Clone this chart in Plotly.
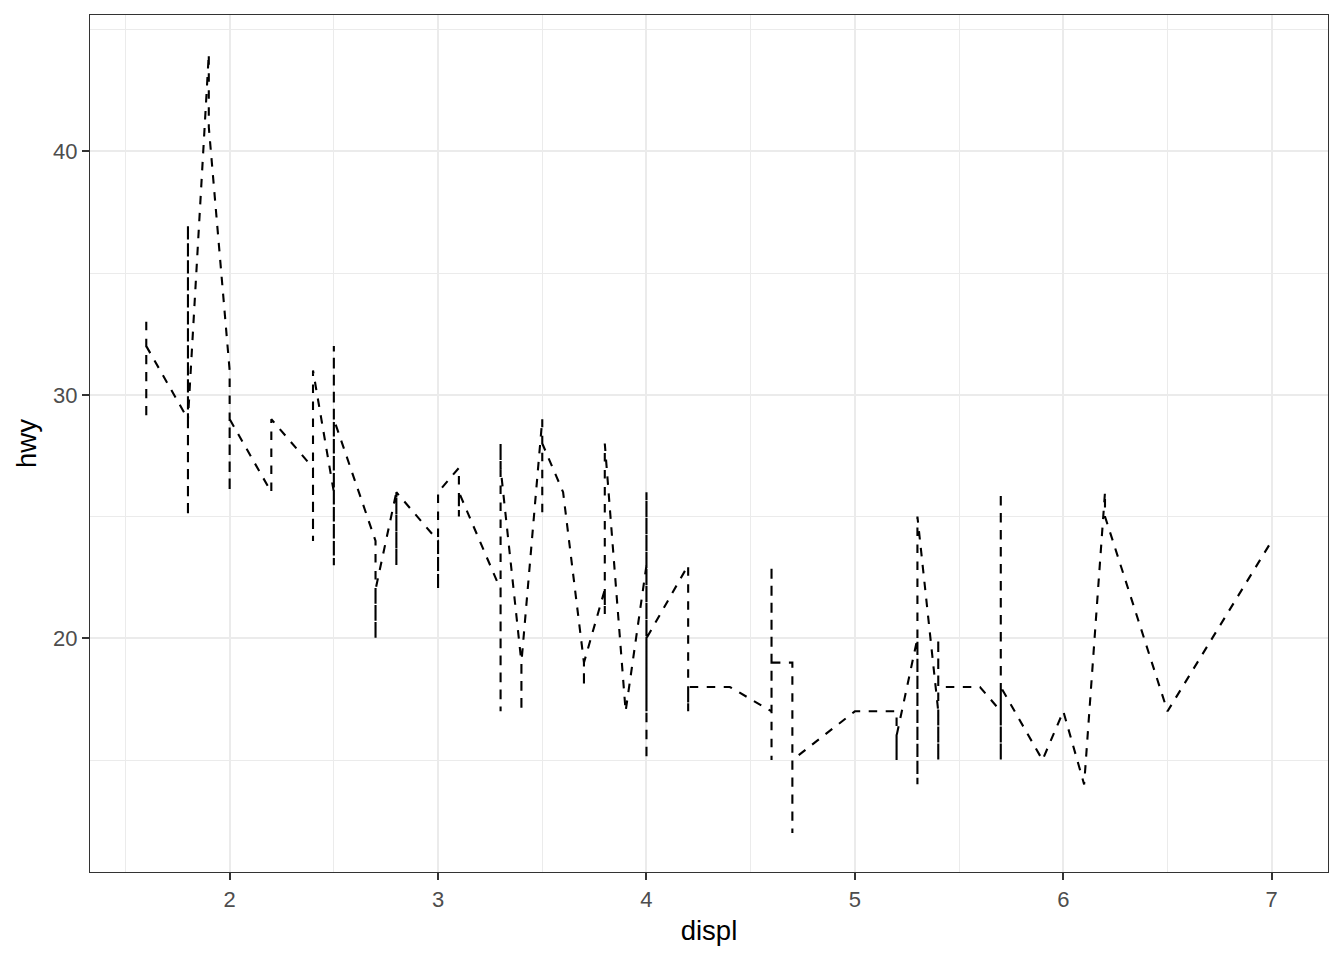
import numpy as np
import plotly.graph_objects as go

# mpg data (dataset order): engine displacement and highway mpg
displ = [
    # audi
    1.8, 1.8, 2.0, 2.0, 2.8, 2.8, 3.1, 1.8, 1.8, 2.0, 2.0, 2.8, 2.8, 3.1, 3.1, 2.8, 3.1, 4.2,
    # chevrolet
    5.3, 5.3, 5.3, 5.7, 6.0, 5.7, 5.7, 6.2, 6.2, 7.0, 5.3, 5.3, 5.7, 6.5, 2.4, 2.4, 3.1, 3.5, 3.6,
    # dodge
    2.4, 3.0, 3.3, 3.3, 3.3, 3.3, 3.3, 3.8, 3.8, 3.8, 4.0,
    3.7, 3.7, 3.9, 3.9, 4.7, 4.7, 4.7, 5.2, 5.2,
    3.9, 4.7, 4.7, 4.7, 5.2, 5.7, 5.9,
    4.7, 4.7, 4.7, 4.7, 4.7, 4.7, 5.2, 5.2, 5.7, 5.9,
    # ford
    4.6, 5.4, 5.4,
    4.0, 4.0, 4.0, 4.0, 4.6, 5.0,
    4.2, 4.2, 4.6, 4.6, 4.6, 5.4, 5.4,
    3.8, 3.8, 4.0, 4.0, 4.6, 4.6, 4.6, 4.6, 5.4,
    # honda
    1.6, 1.6, 1.6, 1.6, 1.6, 1.8, 1.8, 1.8, 2.0,
    # hyundai
    2.4, 2.4, 2.4, 2.4, 2.5, 2.5, 3.3, 2.0, 2.0, 2.0, 2.0, 2.7, 2.7, 2.7,
    # jeep
    3.0, 3.7, 4.0, 4.7, 4.7, 4.7, 5.7, 6.1,
    # land rover
    4.0, 4.2, 4.4, 4.6,
    # lincoln
    5.4, 5.4, 5.4,
    # mercury
    4.0, 4.0, 4.6, 5.0,
    # nissan
    2.4, 2.4, 2.5, 2.5, 3.5, 3.5, 3.0, 3.0, 3.5, 3.3, 3.3, 4.0, 5.6,
    # pontiac
    3.1, 3.8, 3.8, 3.8, 5.3,
    # subaru
    2.5, 2.5, 2.5, 2.5, 2.5, 2.5, 2.2, 2.2, 2.5, 2.5, 2.5, 2.5, 2.5, 2.5,
    # toyota
    2.7, 2.7, 3.4, 3.4, 4.0, 4.7,
    2.2, 2.2, 2.4, 2.4, 3.0, 3.0, 3.5,
    2.2, 2.2, 2.4, 2.4, 3.0, 3.0, 3.3,
    1.8, 1.8, 1.8, 1.8, 1.8,
    4.7, 5.7,
    2.7, 2.7, 2.7, 3.4, 3.4, 4.0, 4.0,
    # volkswagen
    2.0, 2.0, 2.0, 2.0, 2.8,
    1.9, 2.0, 2.0, 2.0, 2.0, 2.5, 2.5, 2.8, 2.8,
    1.9, 1.9, 2.0, 2.0, 2.5, 2.5,
    1.8, 1.8, 2.0, 2.0, 2.8, 2.8, 3.6,
]
hwy = [
    # audi
    29, 29, 31, 30, 26, 26, 27, 26, 25, 28, 27, 25, 25, 25, 25, 24, 25, 23,
    # chevrolet
    20, 15, 20, 17, 17, 26, 23, 26, 25, 24, 19, 14, 15, 17, 27, 30, 26, 29, 26,
    # dodge
    24, 24, 22, 22, 24, 24, 17, 22, 21, 23, 23,
    19, 18, 17, 17, 19, 19, 12, 17, 15,
    17, 17, 12, 17, 16, 18, 15,
    16, 12, 17, 17, 16, 12, 15, 16, 17, 15,
    # ford
    17, 17, 18,
    17, 19, 17, 19, 19, 17,
    17, 17, 16, 16, 17, 15, 17,
    26, 25, 26, 24, 21, 22, 23, 22, 20,
    # honda
    33, 32, 32, 29, 32, 34, 36, 36, 29,
    # hyundai
    26, 27, 30, 31, 26, 26, 28, 26, 29, 28, 27, 24, 24, 24,
    # jeep
    22, 19, 20, 17, 12, 19, 18, 14,
    # land rover
    15, 18, 18, 15,
    # lincoln
    17, 16, 18,
    # mercury
    17, 19, 19, 17,
    # nissan
    29, 27, 31, 32, 27, 26, 26, 25, 25, 17, 17, 20, 18,
    # pontiac
    26, 26, 27, 28, 25,
    # subaru
    25, 24, 27, 25, 26, 23, 26, 26, 26, 26, 27, 25, 27, 25,
    # toyota
    20, 20, 19, 17, 20, 17,
    29, 27, 31, 31, 26, 26, 28,
    27, 29, 31, 31, 26, 26, 27,
    30, 33, 35, 37, 35,
    15, 18,
    20, 20, 22, 17, 19, 18, 20,
    # volkswagen
    29, 26, 29, 29, 24,
    44, 29, 26, 29, 29, 29, 29, 23, 24,
    44, 41, 29, 26, 28, 29,
    29, 29, 28, 29, 26, 26, 26,
]

x_ticks = [2, 3, 4, 5, 6, 7]
y_ticks = [20, 30, 40]

# geom_line: sort by x (stable, ties keep data order)
order = np.argsort(np.array(displ), kind="stable")
xs = np.array(displ)[order]
ys = np.array(hwy)[order]

fig = go.Figure()
fig.add_trace(go.Scatter(
    x=xs, y=ys, mode="lines",
    line=dict(color="black", width=2.1, dash="8.5px,8.5px"),
    showlegend=False, hoverinfo="skip",
))

xmin, xmax = min(displ), max(displ)
ymin, ymax = min(hwy), max(hwy)
xpad = (xmax - xmin) * 0.05
ypad = (ymax - ymin) * 0.05

axis_common = dict(
    showline=True, mirror=True, linecolor="#333333", linewidth=1.3,
    ticks="outside", ticklen=7, tickwidth=1.8, tickcolor="#333333",
    showgrid=True, gridcolor="#EBEBEB", gridwidth=1.7,
    zeroline=False,
    tickfont=dict(family="Liberation Sans, Arial, sans-serif", size=22, color="#4D4D4D"),
)

fig.update_layout(
    width=1336, height=952,
    margin=dict(l=82, r=16, t=7, b=88),
    paper_bgcolor="white", plot_bgcolor="white",
    font=dict(family="Liberation Sans, Arial, sans-serif"),
    xaxis=dict(
        range=[xmin - xpad, xmax + xpad], tickvals=x_ticks,
        ticktext=[str(v) for v in x_ticks],
        minor=dict(tickvals=[1.5, 2.5, 3.5, 4.5, 5.5, 6.5], showgrid=True,
                   gridcolor="#EBEBEB", gridwidth=0.9, ticks=""),
        title=dict(text="displ", font=dict(size=27.5, color="black"), standoff=10),
        **axis_common,
    ),
    yaxis=dict(
        range=[ymin - ypad, ymax + ypad], tickvals=y_ticks,
        ticktext=[str(v) for v in y_ticks],
        minor=dict(tickvals=[15, 25, 35, 45], showgrid=True,
                   gridcolor="#EBEBEB", gridwidth=0.9, ticks=""),
        title=dict(text="hwy", font=dict(size=27.5, color="black"), standoff=8),
        **axis_common,
    ),
)

fig.write_html("out.html")
